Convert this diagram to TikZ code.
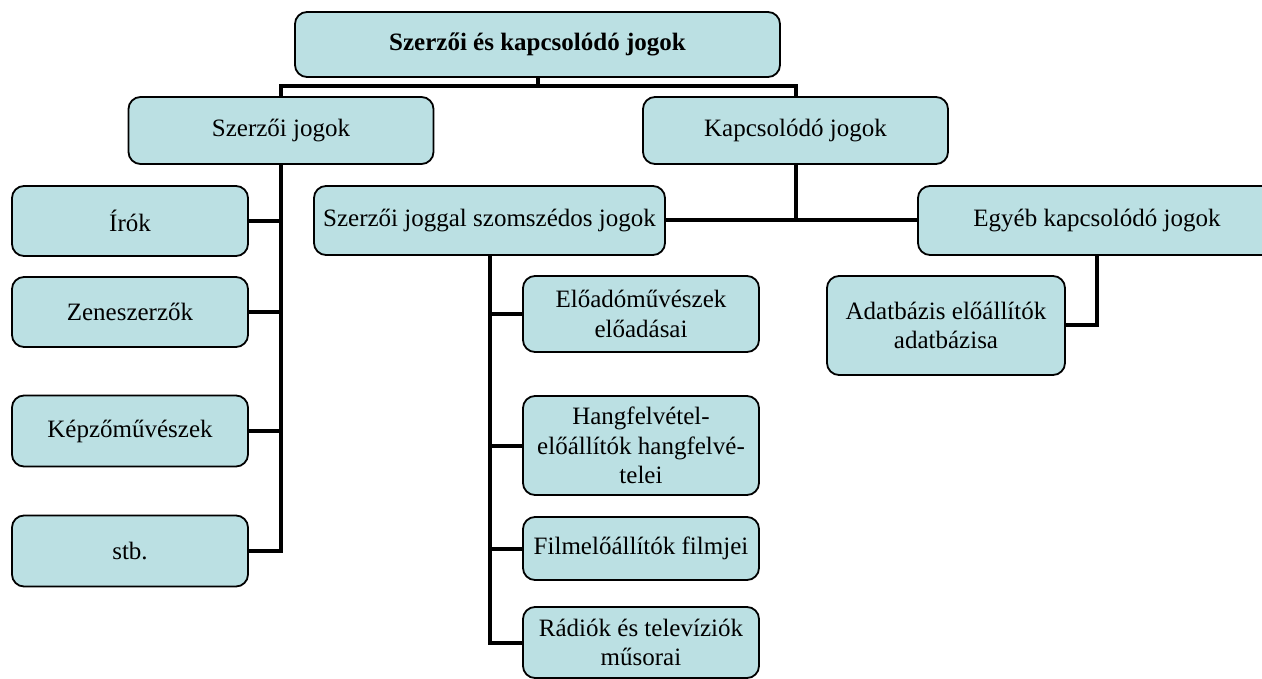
\documentclass[tikz,border=0pt]{standalone}
\usepackage{fontspec}
\setmainfont{Liberation Serif}
\begin{document}
\begin{tikzpicture}[x=1pt,y=-1pt,
  box/.style={draw=black, line width=1.8pt, fill=boxfill, rounded corners=12pt,
    inner sep=0pt, align=center, font=\fontsize{25}{29.5}\selectfont},
  conn/.style={line width=4pt, draw=black}]
\definecolor{boxfill}{HTML}{BBE0E3}
\useasboundingbox (0,0) rectangle (1262,679);
\clip (0,0) rectangle (1262,679);
\node[box, minimum width=485pt, minimum height=65pt, font=\fontsize{25}{29.5}\selectfont\bfseries] (top) at (537.5,44.5) {Szerzői és kapcsolódó jogok};
\node[box, minimum width=305pt, minimum height=67pt] (szj) at (281,130.5) {Szerzői jogok};
\node[box, minimum width=305pt, minimum height=67pt] (kj) at (795.5,130.5) {Kapcsolódó jogok};
\node[box, minimum width=236pt, minimum height=70pt] (irok) at (130,221) {Írók};
\node[box, minimum width=236pt, minimum height=70pt] (zene) at (130,312) {Zeneszerzők};
\node[box, minimum width=236pt, minimum height=71pt] (kepzo) at (130,431) {Képzőművészek};
\node[box, minimum width=236pt, minimum height=71pt] (stb) at (130,551) {stb.};
\node[box, minimum width=351pt, minimum height=69pt] (szomsz) at (489.5,220.5) {Szerzői joggal szomszédos jogok};
\node[box, minimum width=358pt, minimum height=69pt] (egyeb) at (1097,220.5) {Egyéb kapcsolódó jogok};
\node[box, minimum width=236pt, minimum height=76pt] (eload) at (641,314) {Előadóművészek\\előadásai};
\node[box, minimum width=236pt, minimum height=99pt] (hang) at (641,445.5) {Hangfelvétel-\\előállítók hangfelvé-\\telei};
\node[box, minimum width=236pt, minimum height=63pt] (film) at (641,548.5) {Filmelőállítók filmjei};
\node[box, minimum width=236pt, minimum height=71pt] (radio) at (641,642.5) {Rádiók és televíziók\\műsorai};
\node[box, minimum width=238pt, minimum height=99pt] (adat) at (946,325.5) {Adatbázis előállítók\\adatbázisa};
\coordinate (bus) at (537.5,86);
\draw[conn] (top.south) -- (bus);
\draw[conn] (szj.north) |- (bus) -| (kj.north);
\draw[conn] (szj.south) |- (stb.east);
\draw[conn] (irok.east) -- (irok.east -| szj.south);
\draw[conn] (zene.east) -- (zene.east -| szj.south);
\draw[conn] (kepzo.east) -- (kepzo.east -| szj.south);
\draw[conn] (szomsz.east) -- (egyeb.west);
\draw[conn] (kj.south) -- (kj.south |- szomsz.east);
\draw[conn] (szomsz.south) |- (radio.west);
\draw[conn] (eload.west) -- (eload.west -| szomsz.south);
\draw[conn] (hang.west) -- (hang.west -| szomsz.south);
\draw[conn] (film.west) -- (film.west -| szomsz.south);
\draw[conn] (egyeb.south) |- (adat.east);
\end{tikzpicture}
\end{document}
